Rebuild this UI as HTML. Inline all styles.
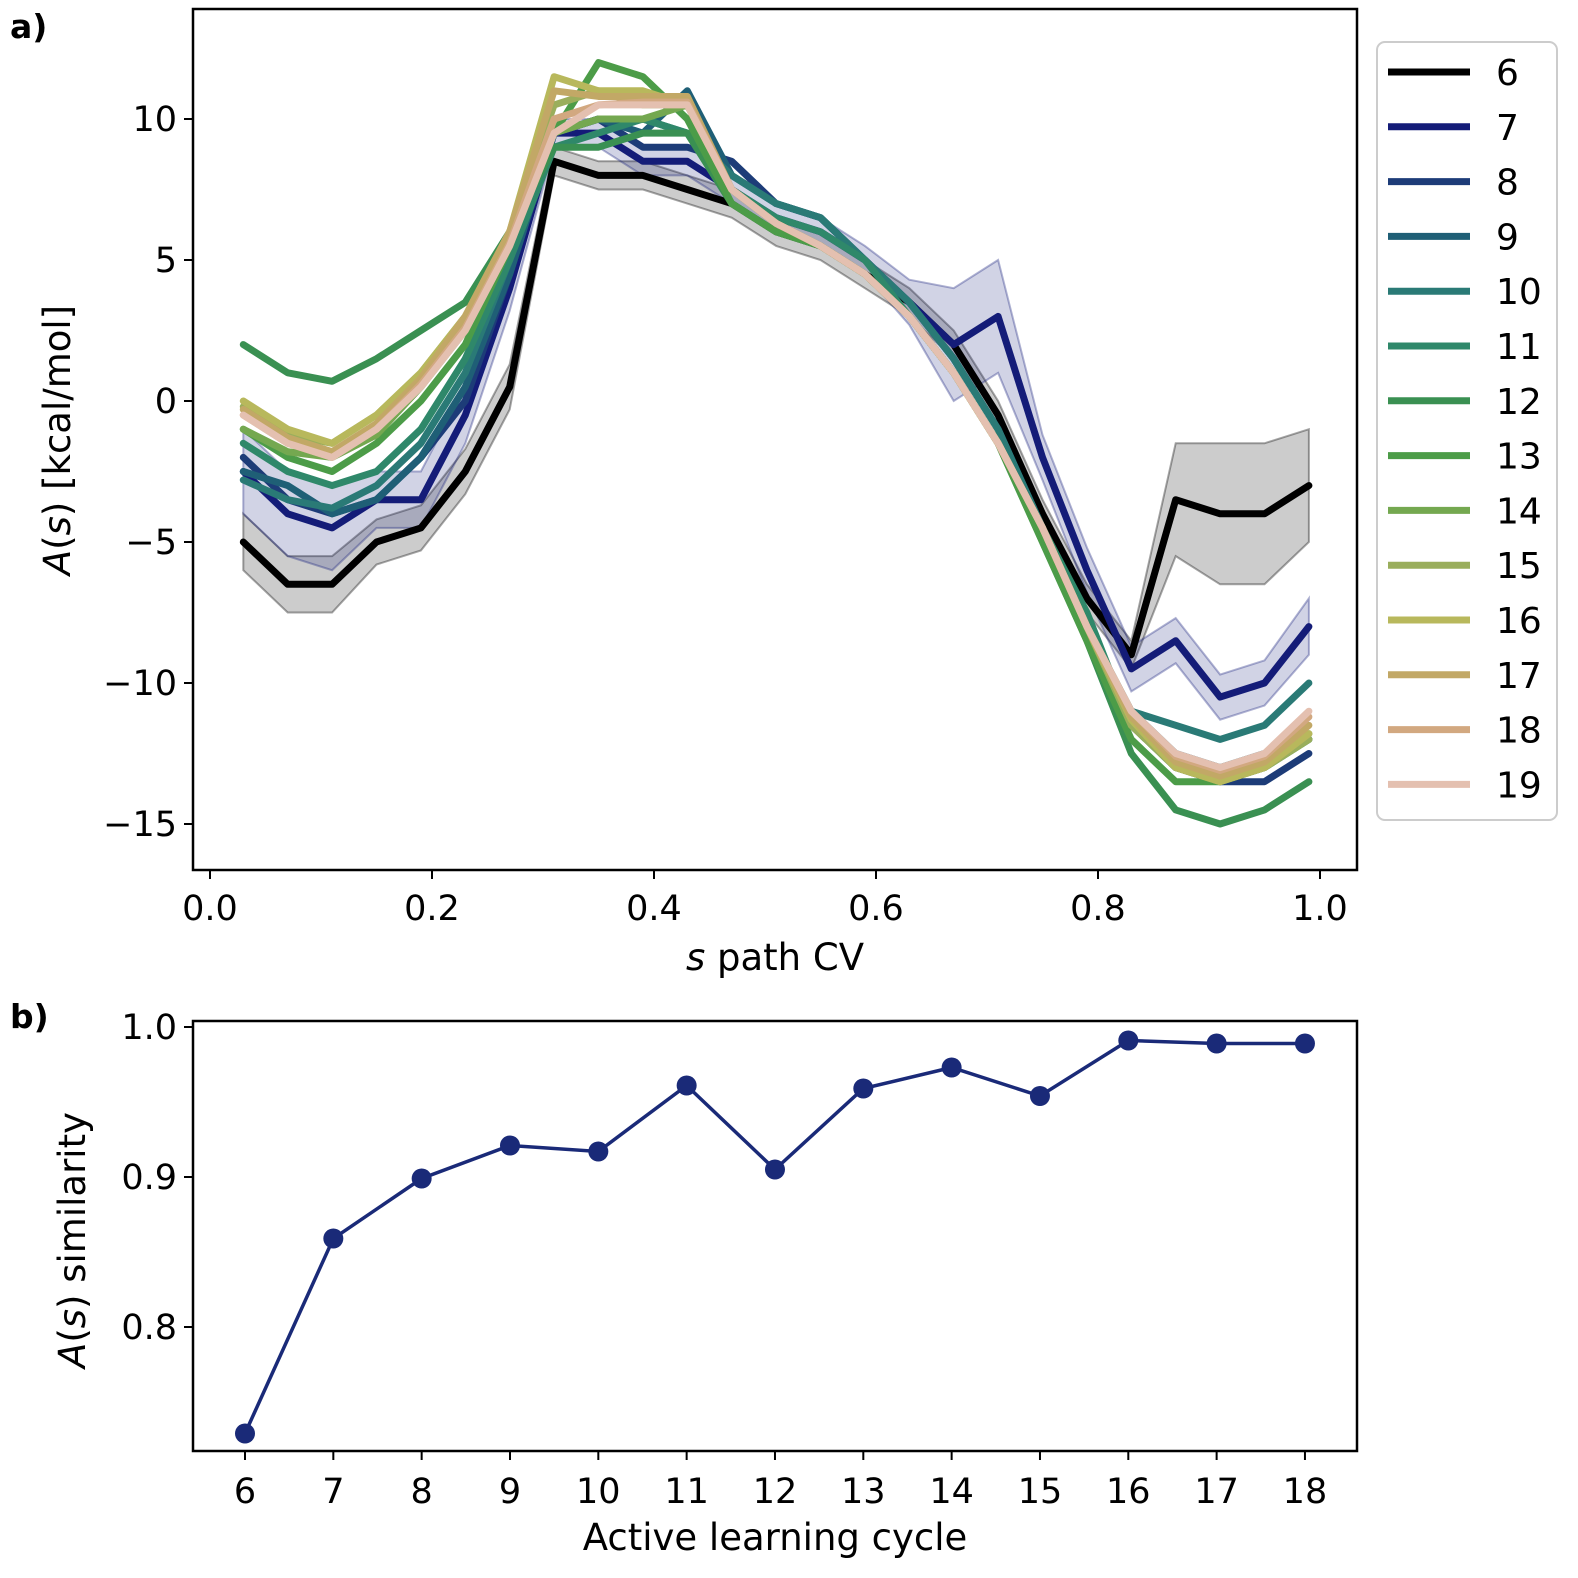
<!DOCTYPE html>
<html><head><meta charset="utf-8"><style>
body{margin:0;background:#fff}
svg{display:block}
text{font-family:"DejaVu Sans","Liberation Sans",sans-serif;fill:#000}
</style></head><body>
<svg id="fig" width="1578" height="1578" viewBox="0 0 1578 1578" xmlns="http://www.w3.org/2000/svg">
<text x="10" y="38" font-size="33" font-weight="bold">a)</text>
<text x="10" y="1028" font-size="33" font-weight="bold">b)</text>
<g id="topChart"></g>
<g id="botChart"></g>
</svg>
<script>
const sGrid=[0.03,0.07,0.11,0.15,0.19,0.23,0.27,0.31,0.35,0.39,0.43,0.47,0.51,0.55,0.59,0.63,0.67,0.71,0.75,0.79,0.83,0.87,0.91,0.95,0.99];
const cycleLabels=["6","7","8","9","10","11","12","13","14","15","16","17","18","19"];
const s6=[-5,-6.5,-6.5,-5,-4.5,-2.5,0.5,8.5,8,8,7.5,7,6,5.5,4.5,3.5,2,-0.5,-4,-7,-9,-3.5,-4,-4,-3];
const s7=[-2.5,-4,-4.5,-3.5,-3.5,-0.5,4,9.5,9.5,8.5,8.5,7.5,6.5,6,5,3.5,2,3,-2,-6,-9.5,-8.5,-10.5,-10,-8];
const s8=[-2,-3.5,-4,-3.5,-2,0,4.5,9.5,10,9,9,8.5,7,6.5,5,3.5,1.5,-1,-4.5,-8,-11.5,-13,-13.5,-13.5,-12.5];
const s9=[-2.5,-3,-4,-3.5,-2,0.5,4.5,9.5,10,9.5,11,8,7,6.5,5,3.5,1.5,-1,-4.5,-8,-11,-12.5,-13,-12.5,-12];
const s10=[-2.8,-3.5,-3.8,-3,-1.5,1,5,9.5,10,10,9.5,8,7,6.5,5,3.5,1.5,-1,-4.5,-8,-11,-11.5,-12,-11.5,-10];
const s11=[-1.5,-2.5,-3,-2.5,-1,1.5,5,9,9.5,10,9.5,7.5,6.5,6,5,3,1,-1.5,-4.5,-7.5,-11.5,-13,-13.5,-13,-12];
const s12=[2,1,0.7,1.5,2.5,3.5,6,9,9,9.5,9.5,7,6,5.5,4.5,3,1,-1.5,-5,-8.5,-12.5,-14.5,-15,-14.5,-13.5];
const s13=[-1,-2,-2.5,-1.5,0,2,5.5,9.5,12,11.5,10,7,6,5.5,4.5,3,1,-1.5,-5,-8.5,-12,-13.5,-13.5,-13,-12];
const s14=[-1,-1.8,-2,-1.2,0.5,2.5,5.5,9.5,10,10,10.5,7.5,6.3,5.5,4.5,3,1,-1.5,-4.5,-8,-11.5,-13,-13.5,-13,-11.8];
const s15=[-0.2,-1.2,-1.5,-0.5,1,3,6,10.5,11,10.5,10.5,7.5,6.3,5.5,4.5,3,1,-1.5,-4.5,-8,-11.5,-13,-13.5,-13,-12];
const s16=[0,-1,-1.5,-0.5,1,3,6,11.5,11,11,10.5,7.5,6.3,5.5,4.5,3,1,-1.5,-4.5,-8,-11.3,-13,-13.5,-13,-11.8];
const s17=[-0.3,-1.3,-1.8,-0.8,0.8,3,6,11,10.8,10.8,10.8,7.5,6.3,5.5,4.5,3,1,-1.5,-4.5,-8,-11.2,-12.8,-13.3,-12.8,-11.5];
const s18=[-0.5,-1.5,-2,-1,0.6,2.6,5.6,10,10.5,10.6,10.6,7.5,6.3,5.5,4.5,3,1,-1.5,-4.5,-8,-11,-12.6,-13.1,-12.6,-11.2];
const s19=[-0.5,-1.5,-2,-1,0.5,2.5,5.5,9.5,10.5,10.5,10.5,7.5,6.3,5.5,4.5,3,1,-1.5,-4.5,-8,-11,-12.5,-13,-12.5,-11];
const err6=[1,1,1,0.8,0.8,0.8,0.8,0.5,0.5,0.5,0.5,0.5,0.5,0.5,0.5,0.5,0.5,0.5,0.5,0.5,0.5,2,2.5,2.5,2];
const err7=[1.5,1.5,1.5,1,1,1,0.8,0.5,0.5,0.5,0.5,0.5,0.5,0.5,0.5,0.8,2,2,0.8,0.8,0.8,0.8,0.8,0.8,1];
const xTicks=[0,0.2,0.4,0.6,0.8,1.0];
const xTickLabels=["0.0","0.2","0.4","0.6","0.8","1.0"];
const yTicks=[10,5,0,-5,-10,-15];
const yTickLabels=["10","5","0","\u22125","\u221210","\u221215"];
const cycles=[6,7,8,9,10,11,12,13,14,15,16,17,18];
const similarity=[0.729,0.859,0.899,0.921,0.917,0.961,0.905,0.959,0.973,0.954,0.991,0.989,0.989];
const simTicks=[0.8,0.9,1.0];
const simTickLabels=["0.8","0.9","1.0"];

const NS="http://www.w3.org/2000/svg";
const series=[s6,s7,s8,s9,s10,s11,s12,s13,s14,s15,s16,s17,s18,s19];
const colors=["#000000","#141c78","#1d3c78","#1f5f76","#2a7a76","#2f886a","#3a9052","#4c9c48","#74a850","#9aae5c","#b8b85c","#c2a866","#d2a880","#e4c0b0"];
function mk(tag,attrs,parent,txt){const e=document.createElementNS(NS,tag);for(const k in attrs)e.setAttribute(k,attrs[k]);if(txt!==undefined)e.textContent=txt;parent.appendChild(e);return e;}
const gTop=document.getElementById('topChart'), gBot=document.getElementById('botChart');
const X=s=>210+s*1110, Y=v=>401-v*28.2;
const L=193,R=1357,T=9,B=870;
const TF=35;
[[s6,err6,"#000"],[s7,err7,"#1a237e"]].forEach((d,i)=>{
  let up=sGrid.map((s,j)=>X(s)+","+Y(d[0][j]+d[1][j]));
  let dn=sGrid.map((s,j)=>X(s)+","+Y(d[0][j]-d[1][j])).reverse();
  const p=mk('polygon',{points:up.concat(dn).join(' '),fill:d[2],'fill-opacity':0.2,stroke:d[2],'stroke-opacity':0.35,'stroke-width':2},gTop);
  
  
});
series.forEach((arr,i)=>{
  const p=mk('polyline',{points:sGrid.map((s,j)=>X(s)+","+Y(arr[j])).join(' '),fill:'none',stroke:colors[i],'stroke-width':7,'stroke-linejoin':'round','stroke-linecap':'round'},gTop);
  
  
});
const fr=mk('rect',{x:L,y:T,width:R-L,height:B-T,fill:'none',stroke:'#000','stroke-width':2.5},gTop);


xTicks.forEach((t,i)=>{
  mk('line',{x1:X(t),x2:X(t),y1:B,y2:B+9,stroke:'#000','stroke-width':2},gTop);
  const e=mk('text',{x:X(t),y:B+50,'font-size':TF,'text-anchor':'middle'},gTop,xTickLabels[i]);
  
  
});
yTicks.forEach((t,i)=>{
  mk('line',{x1:L-9,x2:L,y1:Y(t),y2:Y(t),stroke:'#000','stroke-width':2},gTop);
  const e=mk('text',{x:L-16,y:Y(t)+12,'font-size':TF,'text-anchor':'end'},gTop,yTickLabels[i]);
  
  
});
let xt=mk('text',{x:775,y:970,'font-size':37,'text-anchor':'middle'},gTop);


xt.innerHTML='<tspan font-style="italic">s</tspan> path CV';
let yt=mk('text',{x:0,y:0,'font-size':37,'text-anchor':'middle',transform:'translate(70,440) rotate(-90)'},gTop);


yt.innerHTML='<tspan font-style="italic">A</tspan>(<tspan font-style="italic">s</tspan>) [kcal/mol]';
const lg=mk('rect',{x:1377,y:42,width:180,height:778,rx:8,fill:'#fff',stroke:'#ccc','stroke-width':2},gTop);


cycleLabels.forEach((c,i)=>{
  const y=72+i*54.8;
  const ln=mk('line',{x1:1388,x2:1470,y1:y,y2:y,stroke:colors[i],'stroke-width':7},gTop);
  
  
  const t=mk('text',{x:1496,y:y+13,'font-size':36},gTop,c);
  
  
});
const bL=193,bR=1357,bT=1021,bB=1451;
const BX=c=>245+(c-6)*88.33, BY=v=>1027+(1-v)*1500;
const bl=mk('polyline',{points:cycles.map((c,i)=>BX(c)+","+BY(similarity[i])).join(' '),fill:'none',stroke:'#1a2a78','stroke-width':3.5},gBot);


cycles.forEach((c,i)=>{
  const d=mk('circle',{cx:BX(c),cy:BY(similarity[i]),r:10,fill:'#1a2a78'},gBot);
  
  
  mk('line',{x1:BX(c),x2:BX(c),y1:bB,y2:bB+9,stroke:'#000','stroke-width':2},gBot);
  const t=mk('text',{x:BX(c),y:bB+52,'font-size':TF,'text-anchor':'middle'},gBot,String(c));
  
  
});
const bf=mk('rect',{x:bL,y:bT,width:bR-bL,height:bB-bT,fill:'none',stroke:'#000','stroke-width':2.5},gBot);


simTicks.forEach((t,i)=>{
  mk('line',{x1:bL-9,x2:bL,y1:BY(t),y2:BY(t),stroke:'#000','stroke-width':2},gBot);
  const e=mk('text',{x:bL-16,y:BY(t)+12,'font-size':TF,'text-anchor':'end'},gBot,simTickLabels[i]);
  
  
});
const bxt=mk('text',{x:775,y:1550,'font-size':37,'text-anchor':'middle'},gBot,'Active learning cycle');


let byt=mk('text',{x:0,y:0,'font-size':37,'text-anchor':'middle',transform:'translate(85,1240) rotate(-90)'},gBot);


byt.innerHTML='<tspan font-style="italic">A</tspan>(<tspan font-style="italic">s</tspan>) similarity';
</script>
</body></html>
